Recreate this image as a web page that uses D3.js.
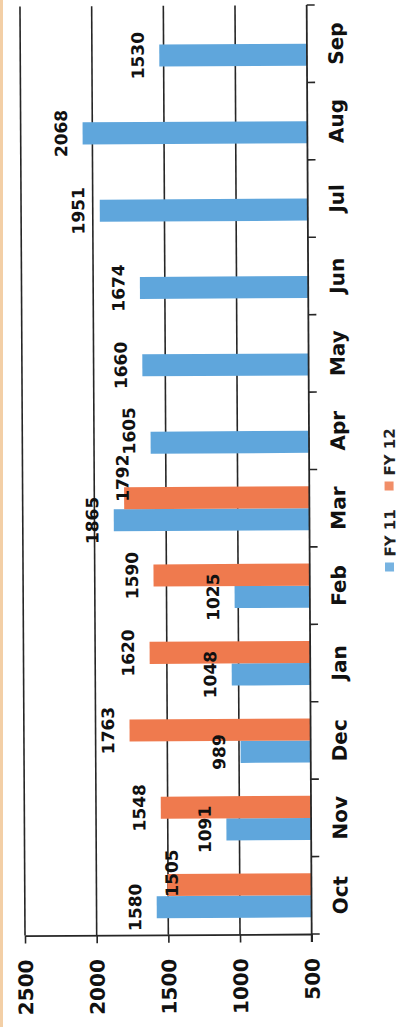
<!DOCTYPE html>
<html><head><meta charset="utf-8">
<script src="https://cdn.jsdelivr.net/npm/d3@7"></script>
<style>html,body{margin:0;padding:0;background:#fff;} svg{display:block;}</style>
</head><body>
<svg id="chart" width="412" height="1027"></svg>
<script>
// ---- data ----
const months = ["Oct","Nov","Dec","Jan","Feb","Mar","Apr","May","Jun","Jul","Aug","Sep"];
const fy11 = [1580,1091,989,1048,1025,1865,1605,1660,1674,1951,2068,1530];
const fy12 = [1505,1548,1763,1620,1590,1792,null,null,null,null,null,null];
const seriesNames = ["FY 11","FY 12"];
const valueTicks = [500,1000,1500,2000,2500];

// ---- style / layout ----
const W = 412, H = 1027;
const colors = {"FY 11": "#5fa6dc", "FY 12": "#ef7a4e"};
const font = "'DejaVu Sans', sans-serif";
const plot = {left: 25, right: 311.7, top: 5, bottom: 934};
// label placement tweaks (as in the reference picture)
const labelNudge = {"FY 12|Oct": {dx: 26, dy: -12}, "FY 12|Mar": {dx: 20, dy: -20}, "FY 11|Apr": {dx: 0, dy: -12}};

const svg = d3.select("#chart");
svg.append("rect").attr("width", W).attr("height", H).attr("fill", "#fff");
svg.append("rect").attr("x", 0).attr("y", 0).attr("width", 3).attr("height", H).attr("fill", "#f3cfa6");

const g = svg.append("g").attr("transform", `rotate(-0.31, ${plot.right}, ${plot.bottom})`);

const x = d3.scaleLinear().domain([500, 2500]).range([plot.right, plot.left]);
const pad = 0.43;
const y0 = d3.scaleBand().domain(months).range([plot.bottom, plot.top]).paddingInner(pad).paddingOuter(pad / 2);
const y1 = d3.scaleBand().domain(seriesNames).range([y0.bandwidth(), 0]);

// gridlines
g.append("g").selectAll("line").data(valueTicks.filter(v => v > 500)).join("line")
  .attr("x1", d => x(d)).attr("x2", d => x(d))
  .attr("y1", plot.top).attr("y2", plot.bottom)
  .attr("stroke", "#262626").attr("stroke-width", 1.6);

// bars
const rows = [];
months.forEach((m, i) => {
  rows.push({m, s: "FY 11", v: fy11[i]});
  rows.push({m, s: "FY 12", v: fy12[i]});
});
const valid = rows.filter(r => r.v != null);
g.append("g").selectAll("rect").data(valid).join("rect")
  .attr("x", d => x(d.v))
  .attr("width", d => x(500) - x(d.v))
  .attr("y", d => y0(d.m) + y1(d.s))
  .attr("height", y1.bandwidth())
  .attr("fill", d => colors[d.s]);

// value axis (bottom)
const xAxis = g.append("g").attr("transform", `translate(0,${plot.bottom})`)
  .call(d3.axisBottom(x).tickValues(valueTicks).tickSize(8).tickSizeOuter(0).tickFormat(d3.format("d")));
xAxis.select(".domain").attr("stroke", "#262626").attr("stroke-width", 1.8);
xAxis.selectAll(".tick line").attr("stroke", "#262626").attr("stroke-width", 1.6);
xAxis.selectAll(".tick text")
  .attr("transform", "translate(0,24) rotate(-90)")
  .attr("x", 0).attr("y", 0).attr("dy", "0.36em")
  .attr("text-anchor", "end")
  .attr("font-family", font).attr("font-weight", "bold").attr("font-size", 20).attr("fill", "#111");

// category axis (right side, vertical)
g.append("line").attr("x1", x(500)).attr("x2", x(500))
  .attr("y1", plot.top).attr("y2", plot.bottom + 8)
  .attr("stroke", "#262626").attr("stroke-width", 1.8);
const bounds = months.map(m => y0(m) + y0.bandwidth() / 2 - y0.step() / 2).concat([plot.bottom]);
g.append("g").selectAll("line").data(bounds).join("line")
  .attr("x1", x(500)).attr("x2", x(500) + 8)
  .attr("y1", d => d).attr("y2", d => d)
  .attr("stroke", "#262626").attr("stroke-width", 1.6);
g.append("g").selectAll("text").data(months).join("text")
  .attr("transform", d => `translate(${x(500) + 36},${y0(d) + y0.bandwidth() / 2}) rotate(-90)`)
  .attr("text-anchor", "middle")
  .attr("font-family", font).attr("font-weight", "bold").attr("font-size", 20).attr("fill", "#111")
  .text(d => d);

// data labels
g.append("g").selectAll("text").data(valid).join("text")
  .attr("transform", d => {
    const n = labelNudge[d.s + "|" + d.m] || {dx: 0, dy: 0};
    return `translate(${x(d.v) - 15.5 + n.dx},${y0(d.m) + y1(d.s) + y1.bandwidth() / 2 + n.dy}) rotate(-90)`;
  })
  .attr("text-anchor", "middle")
  .attr("font-family", font).attr("font-weight", "bold").attr("font-size", 17).attr("fill", "#111")
  .text(d => d.v);

// legend
const leg = g.append("g").attr("transform", "translate(392,572)");
const items = leg.selectAll("g").data(seriesNames).join("g")
  .attr("transform", (d, i) => `translate(0,${-i * 81})`);
items.append("rect").attr("x", -5).attr("y", -9).attr("width", 9).attr("height", 9)
  .attr("fill", d => colors[d]).attr("opacity", 0.85);
items.append("text")
  .attr("transform", "translate(5.5,-15) rotate(-90)")
  .attr("text-anchor", "start")
  .attr("font-family", font).attr("font-weight", "bold").attr("font-size", 15).attr("fill", "#222")
  .text(d => d);
</script>
</body></html>
